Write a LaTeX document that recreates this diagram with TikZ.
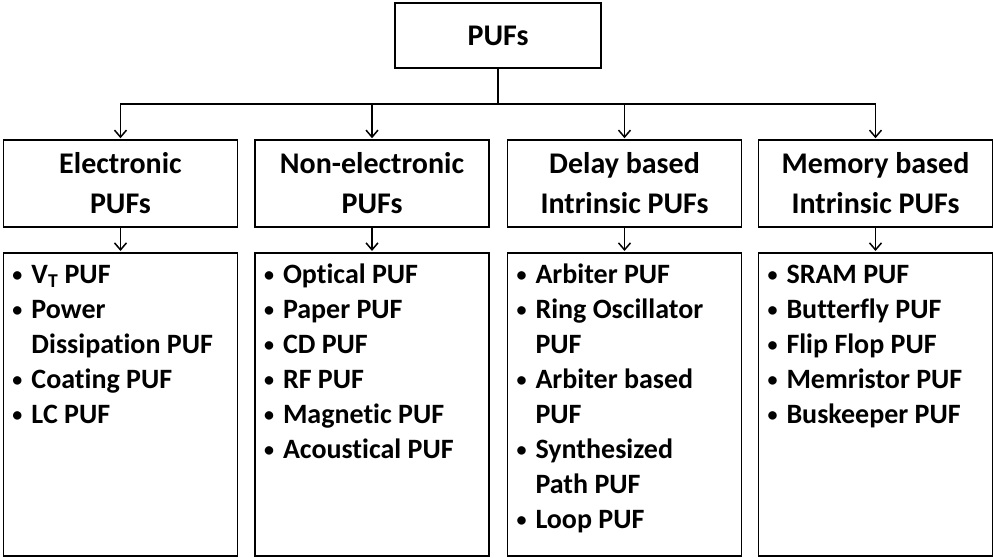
\documentclass[tikz,border=0pt]{standalone}
\usepackage{fontspec}
\setmainfont{Carlito}[Ligatures=NoCommon]
\usepackage{tikz}
\usetikzlibrary{positioning}
\usetikzlibrary{arrows.meta}

\newcommand{\pufbullet}{\raisebox{2.5pt}{\fontsize{20}{20}\selectfont\textbullet}}
\newcommand{\pufitem}[1]{\hangindent=20pt\hangafter=1\noindent\makebox[20pt][l]{\hspace{1pt}\pufbullet}#1\par}

\begin{document}
\begin{tikzpicture} [x=1pt, y=-1pt, ->, >={Straight Barb[length=7pt,width=12pt]},
            line width=1.5pt, shorten >=1pt]

            \tikzstyle{root} = [rectangle, draw=black, minimum width=206pt, minimum height=65pt,
                font=\fontsize{30}{36}\selectfont\bfseries]
            \tikzstyle{category} = [rectangle, draw=black, minimum width=234pt, minimum height=87pt,
                align=center, font=\fontsize{30}{40}\selectfont\bfseries,
                execute at begin node={\spaceskip=0pt\xspaceskip=0pt}]
            \tikzstyle{members} = [rectangle, draw=black, anchor=north, text width=218pt,
                inner xsep=8pt, inner ysep=0pt, text height=31pt, text depth=272pt,
                font=\fontsize{28}{35}\selectfont\bfseries,
                execute at begin node={\spaceskip=0pt\xspaceskip=0pt\raggedright}]

            \useasboundingbox (0, 0) rectangle (993, 557);

            \node[root](pufs) at(498, 35.5) {PUFs};

            \node[category](electronic) at(120.5, 183.5) {Electronic\\PUFs};
            \node[category](nonelectronic) at(372, 183.5) {Non-electronic\\PUFs};
            \node[category](delay) at(624.5, 183.5) {Delay based\\Intrinsic PUFs};
            \node[category](memory) at(875.5, 183.5) {Memory based\\Intrinsic PUFs};

            \node[members](electronic_list) at(120.5, 252) {
                \pufitem{V\textsubscript{T} PUF}
                \pufitem{Power\newline Dissipation PUF}
                \pufitem{Coating PUF}
                \pufitem{LC PUF}};
            \node[members](nonelectronic_list) at(372, 252) {
                \pufitem{Optical PUF}
                \pufitem{Paper PUF}
                \pufitem{CD PUF}
                \pufitem{RF PUF}
                \pufitem{Magnetic PUF}
                \pufitem{Acoustical PUF}};
            \node[members](delay_list) at(624.5, 252) {
                \pufitem{Arbiter PUF}
                \pufitem{Ring Oscillator\newline PUF}
                \pufitem{Arbiter based\newline PUF}
                \pufitem{Synthesized\newline Path PUF}
                \pufitem{Loop PUF}};
            \node[members](memory_list) at(875.5, 252) {
                \pufitem{SRAM PUF}
                \pufitem{Butterfly PUF}
                \pufitem{Flip Flop PUF}
                \pufitem{Memristor PUF}
                \pufitem{Buskeeper PUF}};

            \coordinate (bus) at(498, 104);
            \draw[-] (pufs) -- (bus);
            \foreach \cat in {electronic, nonelectronic, delay, memory} {
                \draw (bus) -| (\cat.north);
                \draw (\cat) -- (\cat_list);
            }
       \end{tikzpicture}
\end{document}
